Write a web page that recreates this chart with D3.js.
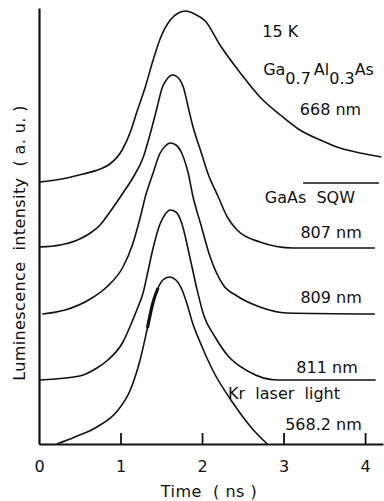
<!DOCTYPE html>
<html>
<head>
<meta charset="utf-8">
<title>Time-resolved luminescence, 15 K</title>
<script src="https://d3js.org/d3.v7.min.js"></script>
<style>
  body { margin: 0; background: #fff; }
  svg text { font-family: "DejaVu Sans", sans-serif; fill: #111; white-space: pre; }
  .curve { fill: none; stroke: #111; stroke-width: 1.6; }
</style>
</head>
<body>
<svg id="chart" width="384" height="501"></svg>
<script>
// time (ns), intensity (a.u., curves offset vertically as in the figure)
const gaAlAs668 = [[0.01,2.62],[0.34,2.66],[0.54,2.70],[0.75,2.75],[0.87,2.80],[1.02,2.94],[1.13,3.14],[1.20,3.32],
  [1.30,3.56],[1.40,3.84],[1.49,4.06],[1.61,4.24],[1.71,4.31],[1.80,4.33],[1.91,4.30],[2.04,4.23],[2.22,3.99],
  [2.47,3.71],[2.71,3.47],[2.96,3.29],[3.20,3.14],[3.45,3.04],[3.69,2.96],[3.94,2.91],[4.20,2.87]];
const base668 = [[3.24,2.61],[4.17,2.61]];
const sqw807 = [[0.01,1.97],[0.26,1.99],[0.50,2.05],[0.63,2.11],[0.75,2.19],[0.87,2.32],[1.03,2.51],[1.15,2.66],
  [1.28,2.87],[1.36,3.09],[1.45,3.37],[1.51,3.56],[1.57,3.65],[1.64,3.69],[1.72,3.65],[1.77,3.57],[1.83,3.37],
  [1.89,3.17],[1.98,2.94],[2.07,2.71],[2.20,2.47],[2.31,2.27],[2.43,2.14],[2.71,2.02],[3.12,1.96],[4.12,1.96]];
const sqw809 = [[0.04,1.30],[0.32,1.34],[0.63,1.45],[0.83,1.57],[1.03,1.77],[1.15,2.00],[1.24,2.26],[1.31,2.49],
  [1.40,2.71],[1.48,2.90],[1.55,2.98],[1.61,3.01],[1.68,2.99],[1.75,2.91],[1.83,2.71],[1.89,2.47],[1.98,2.21],
  [2.10,1.87],[2.26,1.59],[2.43,1.48],[2.71,1.37],[3.04,1.31],[4.12,1.30]];
const sqw811 = [[0.01,0.64],[0.50,0.68],[0.71,0.76],[0.83,0.83],[1.03,1.02],[1.14,1.22],[1.20,1.34],[1.28,1.52],
  [1.34,1.74],[1.40,1.96],[1.48,2.19],[1.55,2.30],[1.61,2.34],[1.68,2.32],[1.75,2.21],[1.85,1.87],[1.94,1.54],
  [2.02,1.29],[2.16,1.07],[2.32,0.88],[2.56,0.73],[2.92,0.64],[4.13,0.64]];
const laser568 = [[0.22,0],[0.44,0.07],[0.71,0.17],[0.96,0.33],[1.12,0.54],[1.24,0.84],[1.33,1.16],[1.40,1.42],
  [1.46,1.56],[1.52,1.64],[1.60,1.67],[1.68,1.64],[1.75,1.55],[1.82,1.39],[1.88,1.22],[1.98,1.01],[2.13,0.74],
  [2.38,0.41],[2.63,0.14],[2.80,0]];
const xTicks = [0, 1, 2, 3, 4];

const svg = d3.select("#chart");
const x = d3.scaleLinear().domain([0, 4.22]).range([39, 383]);
const y = d3.scaleLinear().domain([0, 4.36]).range([444, 8]);

const line = d3.line().x(d => x(d[0])).y(d => y(d[1])).curve(d3.curveMonotoneX);

[gaAlAs668, base668, sqw807, sqw809, sqw811, laser568].forEach(s => {
  svg.append("path").attr("class", "curve").attr("d", line(s));
});
// the smudge on the rising edge of the laser pulse
svg.append("path").attr("class", "curve").style("stroke-width", 3.2)
  .attr("d", line(laser568.filter(d => d[0] >= 1.33 && d[0] <= 1.46)));

// axes
const xAxis = svg.append("g").attr("transform", "translate(0," + y(0) + ")")
  .call(d3.axisBottom(x).tickValues(xTicks).tickFormat(d3.format("d"))
    .tickSizeInner(-11).tickSizeOuter(0).tickPadding(17));
xAxis.select(".domain").attr("stroke", "#111").attr("stroke-width", 2.2);
xAxis.selectAll(".tick line").attr("stroke", "#111").attr("stroke-width", 1.8)
  .filter(d => d === 0).remove();
xAxis.selectAll(".tick text").style("font-size", "16px").style("font-family", "DejaVu Sans").attr("fill", "#111");

const yAxis = svg.append("g").attr("transform", "translate(" + x(0) + ",0)")
  .call(d3.axisLeft(y).tickValues([]).tickSizeOuter(0));
yAxis.select(".domain").attr("stroke", "#111").attr("stroke-width", 2.2);

svg.append("text").attr("x", 209).attr("y", 497).attr("text-anchor", "middle")
  .style("font-size", "16px").style("letter-spacing", "0.5px").text("Time  ( ns )");
svg.append("text").attr("transform", "translate(25,243) rotate(-90)").attr("text-anchor", "middle")
  .style("font-size", "16px").style("letter-spacing", "0.4px").text("Luminescence  intensity  ( a. u. )");

// annotations
const lab = (t, v, s, anchor) => svg.append("text").attr("x", x(t)).attr("y", y(v))
  .attr("text-anchor", anchor || "start").style("font-size", "16px").text(s);

lab(2.74, 4.07, "15 K");
const ga = svg.append("text").attr("x", x(2.75)).attr("y", y(3.69)).style("font-size", "16px");
ga.append("tspan").text("Ga");
ga.append("tspan").attr("dy", 9).text("0.7");
ga.append("tspan").attr("dy", -9).attr("dx", 3).text("Al");
ga.append("tspan").attr("dy", 9).text("0.3");
ga.append("tspan").attr("dy", -9).text("As");
lab(3.20, 3.29, "668 nm");
lab(2.77, 2.41, "GaAs  SQW");
lab(3.96, 2.06, "807 nm", "end");
lab(3.96, 1.41, "809 nm", "end");
lab(3.91, 0.71, "811 nm", "end");
lab(2.32, 0.45, "Kr  laser  light");
lab(3.96, 0.14, "568.2 nm", "end");
</script>
</body>
</html>
